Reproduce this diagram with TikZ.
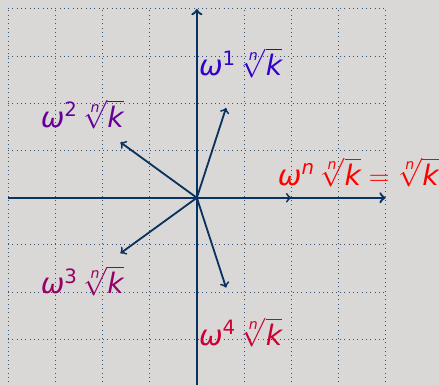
\documentclass[tikz,border=0pt]{standalone}
\usepackage{amsmath}
\usepackage{fontspec}
\setmainfont{DejaVu Sans}
\newcommand\myom{\text{\itshape ω}}
\newcommand\myk{\text{\itshape k}}
\newcommand\myrt{\sqrt[\text{\itshape n}]{\myk}}
\definecolor{bg}{RGB}{217,216,215}
\definecolor{axc}{RGB}{10,50,95}
\begin{document}
\begin{tikzpicture}[
  axis/.style={axc,line width=1.4pt,->},
  vec/.style={axc,line width=1.1pt,->},
  lbl/.style={font=\fontsize{17}{20}\selectfont},
  gridline/.style={axc!80!bg,dotted,line width=0.6pt}
]
\fill[bg] (-4.17,-3.96) rectangle (5.13,4.19);
\useasboundingbox (-4.17,-3.96) rectangle (5.13,4.19);
\draw[gridline] (-4,-4) grid (4,4);
\coordinate (O) at (0,0);
\coordinate (xl) at (-4,0);
\coordinate (xr) at (4,0);
\coordinate (yb) at (0,-4);
\coordinate (yt) at (0,4);
\draw[axis] (xl) -- (xr);
\draw[axis] (yb) -- (yt);
\foreach \i in {1,2,3,4}{
  \coordinate (v\i) at ({72*\i}:2);
  \draw[vec] (O) -- (v\i);
}
\coordinate (v5) at (2,0);
\draw[vec] (O) -- (v5);
\node[lbl,text=red!20!blue] (l1) at (72:3) {$\myom^{\text{1}}\,\myrt$};
\node[lbl,text=red!40!blue] (l2) at (144:3) {$\myom^{\text{2}}\,\myrt$};
\node[lbl,text=red!60!blue] (l3) at (216:3) {$\myom^{\text{3}}\,\myrt$};
\node[lbl,text=red!80!blue] (l4) at (288:3) {$\myom^{\text{4}}\,\myrt$};
\node[lbl,text=red,anchor=base east,inner sep=0pt] (l5) at (5.13,0.27) {$\myom^{\text{\itshape n}}\,\myrt=\myrt$};
\end{tikzpicture}
\end{document}
